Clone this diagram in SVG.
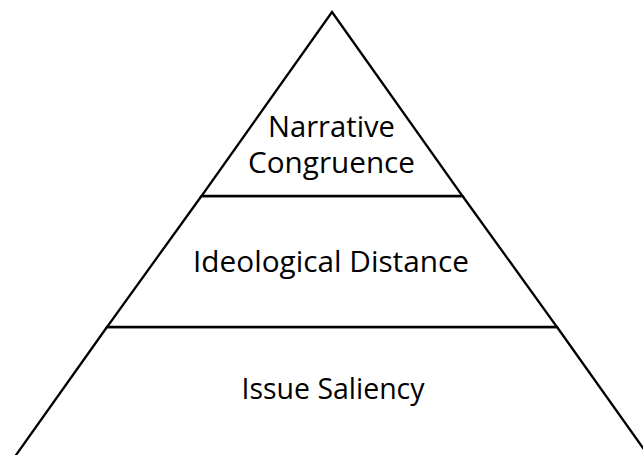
<svg xmlns="http://www.w3.org/2000/svg" width="643" height="455" viewBox="0 0 643 455">
<style>
.layer{fill:#fff;stroke:#000;stroke-width:2.3;stroke-linejoin:miter}
.lbl{font-family:"Open Sans","Liberation Sans",sans-serif;font-size:29px;fill:#000;text-anchor:middle}
</style>
<rect width="643" height="455" fill="#fff"/>
<g id="issue-saliency">
<polygon class="layer" points="107,327 557,327 658.6,470 5.4,470"/>
<text class="lbl" x="333" y="399" textLength="183" lengthAdjust="spacingAndGlyphs">Issue Saliency</text>
</g>
<g id="ideological-distance">
<polygon class="layer" points="201.5,196 462.5,196 557,327 107,327"/>
<text class="lbl" x="331" y="272" textLength="276" lengthAdjust="spacingAndGlyphs">Ideological Distance</text>
</g>
<g id="narrative-congruence">
<polygon class="layer" points="332,12 462.5,196 201.5,196"/>
<text class="lbl" x="331.5" y="137" textLength="127" lengthAdjust="spacingAndGlyphs">Narrative</text>
<text class="lbl" x="331.5" y="173" textLength="167" lengthAdjust="spacingAndGlyphs">Congruence</text>
</g>
<g id="connectors"></g>
</svg>
